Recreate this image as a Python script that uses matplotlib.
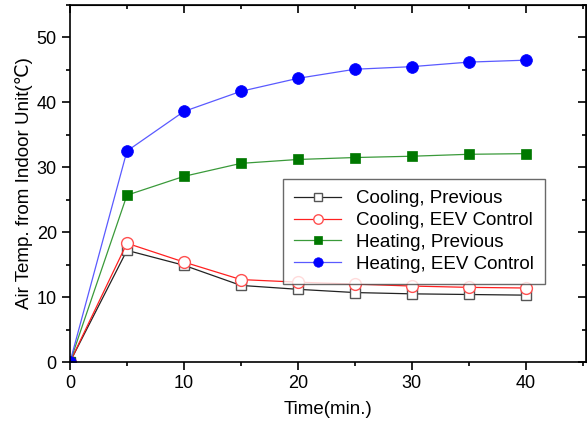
import numpy as np
import matplotlib.pyplot as plt
from matplotlib.ticker import MultipleLocator

plt.rcParams['font.family'] = ['Liberation Sans', 'DejaVu Sans']

time = [0, 5, 10, 15, 20, 25, 30, 35, 40]
cool_prev = [0, 17.2, 14.9, 11.8, 11.2, 10.7, 10.5, 10.4, 10.3]
cool_eev = [0, 18.3, 15.4, 12.7, 12.3, 12.0, 11.7, 11.5, 11.4]
heat_prev = [0, 25.7, 28.6, 30.6, 31.2, 31.5, 31.7, 32.0, 32.1]
heat_eev = [0, 32.5, 38.6, 41.7, 43.7, 45.1, 45.5, 46.2, 46.5]

fig = plt.figure(figsize=(5.87, 4.23), dpi=100)
ax = fig.add_axes([70/587, 61/423, 516/587, 357/423])

ax.plot(time, cool_prev, ls='-', lw=0.9, color='#222222', marker='s', ms=7,
        mfc='white', mec='#555555', mew=1.0, label='Cooling, Previous')
ax.plot(time, cool_eev, ls='-', lw=0.9, color='#ff2020', marker='o', ms=8.5,
        mfc='white', mec='#ff5050', mew=1.0, label='Cooling, EEV Control')
ax.plot(time, heat_prev, ls='-', lw=0.9, color='#3a9a3a', marker='s', ms=7,
        mfc='#007800', mec='#007800', mew=0.5, label='Heating, Previous')
ax.plot(time, heat_eev, ls='-', lw=0.9, color='#5a5aff', marker='o', ms=8.5,
        mfc='#0000ff', mec='#0000ff', mew=0.5, label='Heating, EEV Control')

ax.set_xlim(0, 45.3)
ax.set_ylim(0, 55)
ax.xaxis.set_major_locator(MultipleLocator(10))
ax.xaxis.set_minor_locator(MultipleLocator(5))
ax.yaxis.set_major_locator(MultipleLocator(10))
ax.yaxis.set_minor_locator(MultipleLocator(5))
ax.tick_params(which='both', direction='out', width=1.2, labelsize=13)
ax.tick_params(which='major', length=6)
ax.tick_params(which='minor', length=3)
for s in ax.spines.values():
    s.set_linewidth(1.2)

ax2 = ax.secondary_xaxis('top')
ax2.xaxis.set_major_locator(MultipleLocator(10))
ax2.xaxis.set_minor_locator(MultipleLocator(5))
ax2.tick_params(which='both', direction='in', width=1.2, labeltop=False)
ax2.tick_params(which='major', length=6)
ax2.tick_params(which='minor', length=3)
ax3 = ax.secondary_yaxis('right')
ax3.yaxis.set_major_locator(MultipleLocator(10))
ax3.yaxis.set_minor_locator(MultipleLocator(5))
ax3.tick_params(which='both', direction='in', width=1.2, labelright=False)
ax3.tick_params(which='major', length=6)
ax3.tick_params(which='minor', length=3)

ax.set_xlabel('Time(min.)', fontsize=13.5, labelpad=6)
ax.set_ylabel('Air Temp. from Indoor Unit(\u2103)', fontsize=13.5, labelpad=3)

leg = ax.legend(loc='upper left', bbox_to_anchor=(213/516, (362-179)/357),
                fontsize=13.5, frameon=True, fancybox=False, edgecolor='#444444',
                handlelength=2.5, markerscale=0.8, borderpad=0.6,
                labelspacing=0.25, handletextpad=0.8, borderaxespad=0)
leg.get_frame().set_linewidth(1.0)

fig.savefig('out.png', dpi=100)
